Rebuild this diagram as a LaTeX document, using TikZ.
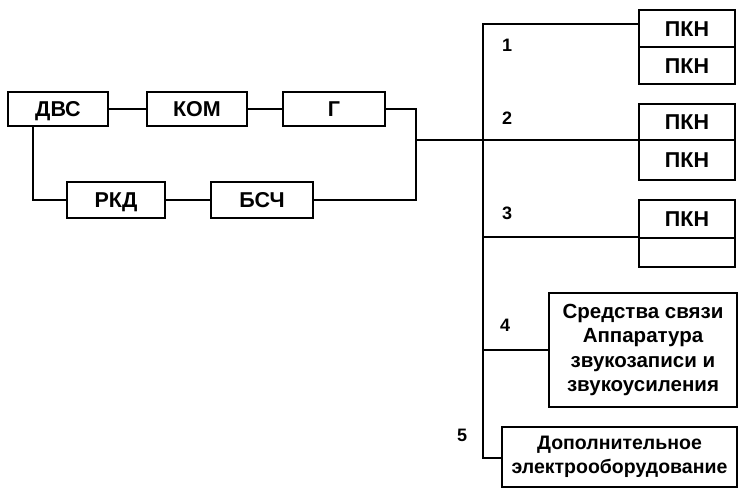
\documentclass[tikz,border=0pt]{standalone}
\usepackage{fontspec}
\setmainfont{Liberation Sans}
\begin{document}
\begin{tikzpicture}[x=1pt,y=-1pt,
  blk/.style={draw,line width=2.2pt,rectangle,inner sep=0pt,font=\bfseries\fontsize{21.5}{24.5}\selectfont,align=center},
  capbox/.style={text height=15.4pt,text depth=0pt},
  wire/.style={line width=1.6pt},
  num/.style={font=\bfseries\fontsize{18}{20}\selectfont,inner sep=0pt}]
\path[use as bounding box] (0,0) rectangle (743,491);
% left group
\node[blk,capbox,minimum width=100pt,minimum height=34pt] (dvs) at (58,109) {ДВС};
\node[blk,capbox,minimum width=100pt,minimum height=34pt] (kom) at (197,109) {КОМ};
\node[blk,capbox,minimum width=102pt,minimum height=34pt] (g) at (334,109) {Г};
\node[blk,capbox,minimum width=98pt,minimum height=36pt] (rkd) at (116,200) {РКД};
\node[blk,capbox,minimum width=102pt,minimum height=36pt] (bsch) at (262,200) {БСЧ};
% right boxes
\node[blk,capbox,minimum width=96pt,minimum height=37pt] (p1a) at (687,28.5) {ПКН};
\node[blk,capbox,minimum width=96pt,minimum height=37pt] (p1b) at (687,65.5) {ПКН};
\node[blk,capbox,minimum width=96pt,minimum height=36pt] (p2a) at (687,122) {ПКН};
\node[blk,capbox,minimum width=96pt,minimum height=40pt] (p2b) at (687,160) {ПКН};
\node[blk,capbox,minimum width=96pt,minimum height=38pt] (p3a) at (687,219) {ПКН};
\node[blk,minimum width=96pt,minimum height=29pt] (p3b) at (687,252.5) {};
\node[blk,font=\bfseries\fontsize{20.5}{24.5}\selectfont,minimum width=188pt,minimum height=114pt] (b4) at (643,350) {Средства связи\\Аппаратура\\звукозаписи и\\звукоусиления};
\node[blk,font=\bfseries\fontsize{19.5}{24}\selectfont,minimum width=235pt,minimum height=60pt] (b5) at (619.5,457) {Дополнительное\\электрооборудование};
% coordinates
\coordinate (jt) at (416,109);
\coordinate (jm) at (416,140);
\coordinate (jb) at (416,200);
\coordinate (btop) at (483,24);
\coordinate (bbot) at (483,458);
\coordinate (dvsd) at (33,126);
% connectors left
\draw[wire] (dvs) -- (kom);
\draw[wire] (kom) -- (g);
\draw[wire] (rkd) -- (bsch);
\draw[wire] (dvsd) |- (rkd.west);
\draw[wire] (g.east) -- (jt) -- (jb) -- (bsch.east);
\draw[wire] (jm) -- (jm -| p2a.west);
% bus
\draw[wire] (btop -| p1a.west) -- (btop) -- (bbot) -- (bbot -| b5.west);
\draw[wire] (btop |- p3b.north) -- (p3b.north west);
\draw[wire] (btop |- b4.west) -- (b4.west);
% labels
\node[num] (n1) at (507,45) {1};
\node[num] (n2) at (507,118) {2};
\node[num] (n3) at (507,213) {3};
\node[num] (n4) at (505,325) {4};
\node[num] (n5) at (462,435) {5};
\end{tikzpicture}
\end{document}
